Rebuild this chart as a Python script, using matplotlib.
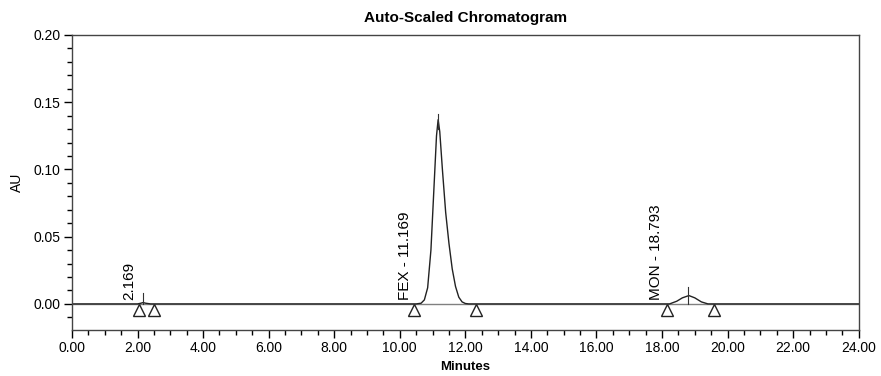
import numpy as np
import matplotlib.pyplot as plt
from matplotlib.ticker import MultipleLocator, FormatStrFormatter

plt.rcParams['font.family'] = ['Liberation Sans', 'DejaVu Sans']

# detector trace (minutes, AU)
minutes = [0.00, 2.00, 2.10, 2.169, 2.25, 2.40,
           10.50, 10.65, 10.75, 10.85, 10.95, 11.05, 11.12, 11.17, 11.22,
           11.30, 11.40, 11.50, 11.60, 11.70, 11.80, 11.90, 12.00, 12.10,
           18.23, 18.45, 18.62, 18.82, 19.00, 19.20, 19.40, 24.00]
au = [0.0, 0.0, 0.0005, 0.001, 0.0005, 0.0,
      0.0, 0.0005, 0.003, 0.012, 0.040, 0.090, 0.125, 0.137, 0.128,
      0.100, 0.068, 0.045, 0.026, 0.013, 0.005, 0.0015, 0.0003, 0.0,
      0.0, 0.002, 0.0045, 0.0062, 0.0045, 0.0015, 0.0, 0.0]

# integrated peaks
peak_names = ["2.169", "FEX - 11.169", "MON - 18.793"]
peak_rt = [2.169, 11.169, 18.793]
peak_top = [0.008, 0.141, 0.0125]
peak_bottom = [0.0, 0.130, 0.0]
label_x = [1.75, 10.15, 17.83]
peak_start = [2.04, 10.43, 18.16]
peak_end = [2.49, 12.31, 19.58]

fig = plt.figure(figsize=(8.81, 3.76), dpi=100)
ax = fig.add_axes([0.0817, 0.122, 0.893, 0.785])

ax.axhline(0, color="#808080", lw=1.0, zorder=1)
ax.plot(minutes, au, color="#222222", lw=1.0, zorder=2)

for rt, bot, top in zip(peak_rt, peak_bottom, peak_top):
    ax.plot([rt, rt], [bot, top], color="#333333", lw=0.8)

ax.plot(peak_start + peak_end, [-0.0045] * (len(peak_start) + len(peak_end)),
        linestyle="none", marker="^", markersize=9, markerfacecolor="white",
        markeredgecolor="#222222", markeredgewidth=1.0, zorder=3)

for name, lx in zip(peak_names, label_x):
    ax.text(lx, 0.003, name, rotation=90, ha="center", va="bottom", fontsize=11)

ax.set_xlim(0, 24)
ax.set_ylim(-0.0195, 0.20)
ax.xaxis.set_major_locator(MultipleLocator(2))
ax.xaxis.set_minor_locator(MultipleLocator(0.5))
ax.yaxis.set_major_locator(MultipleLocator(0.05))
ax.yaxis.set_minor_locator(MultipleLocator(0.01))
ax.xaxis.set_major_formatter(FormatStrFormatter("%.2f"))
ax.yaxis.set_major_formatter(FormatStrFormatter("%.2f"))
ax.tick_params(which="major", direction="out", length=6, width=1, labelsize=10, pad=2)
ax.tick_params(which="minor", direction="out", length=3.5, width=1)
for s in ax.spines.values():
    s.set_color("#444444")
    s.set_linewidth(1.0)

ax.set_title("Auto-Scaled Chromatogram", fontsize=11, fontweight="bold", pad=9)
ax.set_xlabel("Minutes", fontsize=9.5, fontweight="bold", labelpad=4)
ax.set_ylabel("AU", fontsize=10, labelpad=7)

fig.savefig("out.png", dpi=100)
